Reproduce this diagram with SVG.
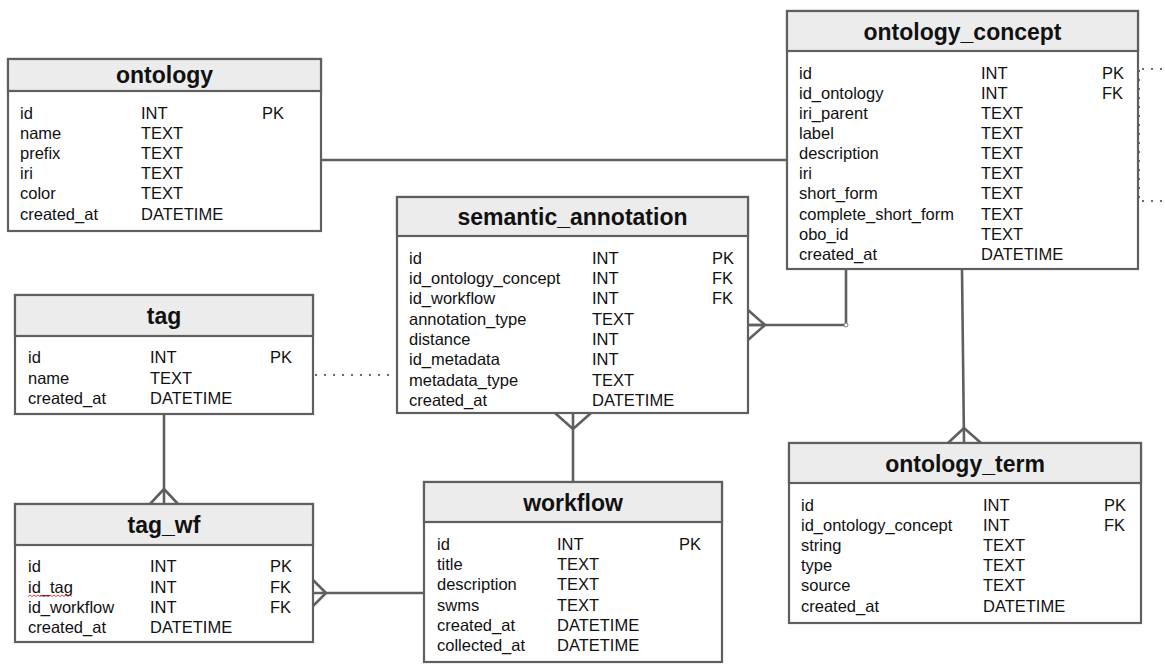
<svg xmlns="http://www.w3.org/2000/svg" width="1165" height="664" viewBox="0 0 1165 664">
<style>
.box{fill:#ffffff;stroke:#5f5f5f;stroke-width:2.2}
.hdr{fill:#ececec;stroke:#5f5f5f;stroke-width:2.2}
.title{font-family:"Liberation Sans",Arial,sans-serif;font-weight:bold;font-size:23px;fill:#111;text-anchor:middle}
.row{font-family:"Liberation Sans",Arial,sans-serif;font-size:16.5px;fill:#111}
.ln{fill:none;stroke:#5f5f5f;stroke-width:2.6;stroke-linejoin:miter}
.dot{fill:none;stroke:#6a6a6a;stroke-width:2;stroke-dasharray:2 7}
</style>
<rect width="1165" height="664" fill="#ffffff"/>
<g id="connectors">
  <!-- ontology - ontology_concept -->
  <path class="ln" d="M321,160 H787"/>
  <!-- semantic_annotation - ontology_concept -->
  <path class="ln" d="M748,325 H846 V269"/>
  <path class="ln" d="M748,310 L765,325 L748,340 M748,325 H765"/>
  <circle cx="846" cy="325" r="2" fill="#fff" stroke="#777" stroke-width="1"/>
  <!-- ontology_concept - ontology_term -->
  <path class="ln" d="M962,269 L964,443"/>
  <path class="ln" d="M948,443 L964,428 L981,443"/>
  <!-- tag dotted to semantic_annotation -->
  <path class="dot" d="M315,375 H397"/>
  <!-- self / outside dotted -->
  <path class="dot" d="M1142,69 H1165"/>
  <path class="dot" d="M1142,201 H1165"/>
  <path class="dot" d="M1139,70 V200" stroke-dasharray="3 3"/>
  <!-- tag - tag_wf -->
  <path class="ln" d="M164,414 V504"/>
  <path class="ln" d="M150,504 L164,489 L178,504"/>
  <!-- tag_wf - workflow -->
  <path class="ln" d="M313,593 H424"/>
  <path class="ln" d="M313,580 L326,593 L313,606"/>
  <!-- semantic_annotation - workflow -->
  <path class="ln" d="M573,413 V482"/>
  <path class="ln" d="M555,413 L573,429 L591,413"/>
</g>
<g id="ontology">
  <rect class="box" x="8" y="59" width="313" height="172"/>
  <rect class="hdr" x="8" y="59" width="313" height="32"/>
  <text class="title" x="164.5" y="83">ontology</text>
  <text class="row" x="20" y="119">id</text><text class="row" x="141" y="119">INT</text><text class="row" x="262" y="119">PK</text>
  <text class="row" x="20" y="139">name</text><text class="row" x="141" y="139">TEXT</text>
  <text class="row" x="20" y="159">prefix</text><text class="row" x="141" y="159">TEXT</text>
  <text class="row" x="20" y="179">iri</text><text class="row" x="141" y="179">TEXT</text>
  <text class="row" x="20" y="199">color</text><text class="row" x="141" y="199">TEXT</text>
  <text class="row" x="20" y="220">created_at</text><text class="row" x="141" y="220">DATETIME</text>
</g>
<g id="ontology_concept">
  <rect class="box" x="787" y="11" width="351" height="258"/>
  <rect class="hdr" x="787" y="11" width="351" height="40"/>
  <text class="title" x="962.5" y="40">ontology_concept</text>
  <text class="row" x="799" y="79">id</text><text class="row" x="981" y="79">INT</text><text class="row" x="1102" y="79">PK</text>
  <text class="row" x="799" y="99">id_ontology</text><text class="row" x="981" y="99">INT</text><text class="row" x="1102" y="99">FK</text>
  <text class="row" x="799" y="119">iri_parent</text><text class="row" x="981" y="119">TEXT</text>
  <text class="row" x="799" y="139">label</text><text class="row" x="981" y="139">TEXT</text>
  <text class="row" x="799" y="159">description</text><text class="row" x="981" y="159">TEXT</text>
  <text class="row" x="799" y="179">iri</text><text class="row" x="981" y="179">TEXT</text>
  <text class="row" x="799" y="199">short_form</text><text class="row" x="981" y="199">TEXT</text>
  <text class="row" x="799" y="220">complete_short_form</text><text class="row" x="981" y="220">TEXT</text>
  <text class="row" x="799" y="240">obo_id</text><text class="row" x="981" y="240">TEXT</text>
  <text class="row" x="799" y="260">created_at</text><text class="row" x="981" y="260">DATETIME</text>
</g>
<g id="semantic_annotation">
  <rect class="box" x="397" y="197" width="351" height="216"/>
  <rect class="hdr" x="397" y="197" width="351" height="39"/>
  <text class="title" x="572.5" y="225">semantic_annotation</text>
  <text class="row" x="409" y="264">id</text><text class="row" x="592" y="264">INT</text><text class="row" x="712" y="264">PK</text>
  <text class="row" x="409" y="284">id_ontology_concept</text><text class="row" x="592" y="284">INT</text><text class="row" x="712" y="284">FK</text>
  <text class="row" x="409" y="304">id_workflow</text><text class="row" x="592" y="304">INT</text><text class="row" x="712" y="304">FK</text>
  <text class="row" x="409" y="325">annotation_type</text><text class="row" x="592" y="325">TEXT</text>
  <text class="row" x="409" y="345">distance</text><text class="row" x="592" y="345">INT</text>
  <text class="row" x="409" y="365">id_metadata</text><text class="row" x="592" y="365">INT</text>
  <text class="row" x="409" y="386">metadata_type</text><text class="row" x="592" y="386">TEXT</text>
  <text class="row" x="409" y="406">created_at</text><text class="row" x="592" y="406">DATETIME</text>
</g>
<g id="tag">
  <rect class="box" x="15" y="295" width="298" height="119"/>
  <rect class="hdr" x="15" y="295" width="298" height="41"/>
  <text class="title" x="164" y="324">tag</text>
  <text class="row" x="28" y="363">id</text><text class="row" x="150" y="363">INT</text><text class="row" x="270" y="363">PK</text>
  <text class="row" x="28" y="384">name</text><text class="row" x="150" y="384">TEXT</text>
  <text class="row" x="28" y="404">created_at</text><text class="row" x="150" y="404">DATETIME</text>
</g>
<g id="tag_wf">
  <rect class="box" x="15" y="504" width="298" height="138"/>
  <rect class="hdr" x="15" y="504" width="298" height="41"/>
  <text class="title" x="164" y="533">tag_wf</text>
  <text class="row" x="28" y="572">id</text><text class="row" x="150" y="572">INT</text><text class="row" x="270" y="572">PK</text>
  <text class="row" x="28" y="593">id_tag</text><text class="row" x="150" y="593">INT</text><text class="row" x="270" y="593">FK</text>
  <path d="M28,596.5 l2,-1.5 l2,1.5 l2,-1.5 l2,1.5 l2,-1.5 l2,1.5 l2,-1.5 l2,1.5 l2,-1.5 l2,1.5 l2,-1.5 l2,1.5 l2,-1.5 l2,1.5 l2,-1.5 l2,1.5 l2,-1.5 l2,1.5 l2,-1.5 l2,1.5 l2,-1.5 l2,1.5" fill="none" stroke="#e03030" stroke-width="0.9"/>
  <text class="row" x="28" y="613">id_workflow</text><text class="row" x="150" y="613">INT</text><text class="row" x="270" y="613">FK</text>
  <text class="row" x="28" y="633">created_at</text><text class="row" x="150" y="633">DATETIME</text>
</g>
<g id="workflow">
  <rect class="box" x="424" y="482" width="298" height="180"/>
  <rect class="hdr" x="424" y="482" width="298" height="40"/>
  <text class="title" x="573" y="511">workflow</text>
  <text class="row" x="437" y="550">id</text><text class="row" x="557" y="550">INT</text><text class="row" x="679" y="550">PK</text>
  <text class="row" x="437" y="570">title</text><text class="row" x="557" y="570">TEXT</text>
  <text class="row" x="437" y="590">description</text><text class="row" x="557" y="590">TEXT</text>
  <text class="row" x="437" y="611">swms</text><text class="row" x="557" y="611">TEXT</text>
  <text class="row" x="437" y="631">created_at</text><text class="row" x="557" y="631">DATETIME</text>
  <text class="row" x="437" y="651">collected_at</text><text class="row" x="557" y="651">DATETIME</text>
</g>
<g id="ontology_term">
  <rect class="box" x="789" y="443" width="352" height="180"/>
  <rect class="hdr" x="789" y="443" width="352" height="40"/>
  <text class="title" x="965" y="472">ontology_term</text>
  <text class="row" x="801" y="511">id</text><text class="row" x="983" y="511">INT</text><text class="row" x="1104" y="511">PK</text>
  <text class="row" x="801" y="531">id_ontology_concept</text><text class="row" x="983" y="531">INT</text><text class="row" x="1104" y="531">FK</text>
  <text class="row" x="801" y="551">string</text><text class="row" x="983" y="551">TEXT</text>
  <text class="row" x="801" y="571">type</text><text class="row" x="983" y="571">TEXT</text>
  <text class="row" x="801" y="591">source</text><text class="row" x="983" y="591">TEXT</text>
  <text class="row" x="801" y="612">created_at</text><text class="row" x="983" y="612">DATETIME</text>
</g>
</svg>
